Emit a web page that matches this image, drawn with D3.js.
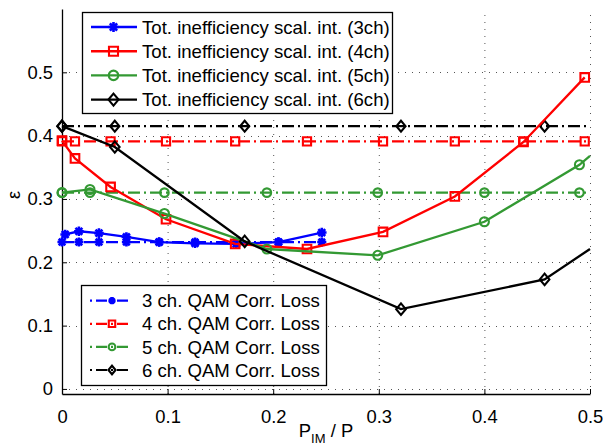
<!DOCTYPE html>
<html><head><meta charset="utf-8">
<script src="https://cdn.jsdelivr.net/npm/d3@7"></script>
<style>body{margin:0;background:#fff;} svg{display:block;font-family:"Liberation Sans",Arial,sans-serif;}</style>
</head><body>
<script>
// ---- data ----
const xTicks = [0, 0.1, 0.2, 0.3, 0.4, 0.5];
const yTicks = [0, 0.1, 0.2, 0.3, 0.4, 0.5];
const xTickLabels = ["0", "0.1", "0.2", "0.3", "0.4", "0.5"];
const yTickLabels = ["0", "0.1", "0.2", "0.3", "0.4", "0.5"];

const tot3X = [0.003, 0.016, 0.035, 0.061, 0.092, 0.126, 0.165, 0.205, 0.246];
const tot3Y = [0.244, 0.249, 0.246, 0.240, 0.232, 0.230, 0.229, 0.232, 0.247];
const tot4X = [0, 0.0123, 0.046, 0.0985, 0.164, 0.232, 0.304, 0.372, 0.437, 0.495];
const tot4Y = [0.392, 0.364, 0.319, 0.268, 0.229, 0.221, 0.248, 0.304, 0.390, 0.492];
const tot5X = [0, 0.0265, 0.097, 0.194, 0.299, 0.400, 0.490, 0.5];
const tot5Y = [0.310, 0.315, 0.277, 0.221, 0.211, 0.264, 0.354, 0.368];
const tot6X = [0, 0.05, 0.173, 0.321, 0.457, 0.5];
const tot6Y = [0.415, 0.382, 0.233, 0.126, 0.173, 0.221];
// number of leading points that carry a marker
const totMarked = [9, 10, 7, 5];

const corrLoss = [0.232, 0.391, 0.310, 0.415];
const corrMarkX = [
  [0, 0.016, 0.035, 0.061, 0.092, 0.126, 0.165, 0.205, 0.246],
  [0, 0.0123, 0.046, 0.0985, 0.164, 0.232, 0.304, 0.372, 0.437, 0.495],
  [0, 0.0265, 0.097, 0.194, 0.299, 0.400, 0.490],
  [0, 0.05, 0.173, 0.321, 0.457]
];
const corrSpan = [[0, 0.246], [0, 0.5], [0, 0.5], [0, 0.5]];

const totLabels = ["Tot. inefficiency scal. int. (3ch)", "Tot. inefficiency scal. int. (4ch)",
                   "Tot. inefficiency scal. int. (5ch)", "Tot. inefficiency scal. int. (6ch)"];
const corrLabels = ["3 ch. QAM Corr. Loss", "4 ch. QAM Corr. Loss", "5 ch. QAM Corr. Loss", "6 ch. QAM Corr. Loss"];
const colors = ["#0000ff", "#ff0000", "#339933", "#000000"];
const markerTypes = ["asterisk", "square", "circle", "diamond"];

// ---- layout ----
const W = 603, H = 446;
const L = 62, R = 590, T = 9, B = 394;
const x = d3.scaleLinear().domain([0, 0.5]).range([L, R]);
const y = d3.scaleLinear().domain([-0.008, 0.6]).range([B, T]);

const svg = d3.select("body").append("svg").attr("width", W).attr("height", H);

// grid
const grid = svg.append("g").attr("stroke", "#555").attr("stroke-width", 1).attr("stroke-dasharray", "1,6");
grid.selectAll(".gx").data(xTicks.filter(d => d > 0)).join("line")
  .attr("x1", d => x(d) + 0.5).attr("x2", d => x(d) + 0.5).attr("y1", B).attr("y2", T);
grid.selectAll(".gy").data(yTicks).join("line")
  .attr("y1", d => Math.round(y(d)) + 0.5).attr("y2", d => Math.round(y(d)) + 0.5).attr("x1", L).attr("x2", R);

// axes via d3 axis
const xAxis = d3.axisBottom(x).tickValues(xTicks).tickFormat((d, i) => xTickLabels[i]).tickSizeInner(-5).tickSizeOuter(0).tickPadding(16);
const yAxis = d3.axisLeft(y).tickValues(yTicks).tickFormat((d, i) => yTickLabels[i]).tickSizeInner(-5).tickSizeOuter(0).tickPadding(9);
const gx = svg.append("g").attr("transform", `translate(0,${B})`).call(xAxis);
const gy = svg.append("g").attr("transform", `translate(${L},0)`).call(yAxis);
[gx, gy].forEach(g => {
  g.select(".domain").attr("stroke", "#000").attr("stroke-width", 1.3);
  g.selectAll(".tick line").attr("stroke", "#000");
  g.selectAll(".tick text").attr("fill", "#000").attr("font-size", 18.4).attr("font-family", '"Liberation Sans", Arial, sans-serif');
});

function markerPath(type, s) {
  if (type === "asterisk") {
    const r = 4.8 * s, q = r * 0.72;
    return `M${-r},0L${r},0M0,${-r}L0,${r}M${-q},${-q}L${q},${q}M${-q},${q}L${q},${-q}`;
  }
  if (type === "square") { const h = 4.3 * s; return `M${-h},${-h}H${h}V${h}H${-h}Z`; }
  if (type === "circle") { const r = 4.5 * s; return `M${r},0A${r},${r} 0 1,1 ${-r},0A${r},${r} 0 1,1 ${r},0Z`; }
  const w = 4.8 * s, h = 5.7 * s;
  return `M0,${-h}L${w},0L0,${h}L${-w},0Z`;
}
function drawMarkers(g, pts, i, s) {
  g.selectAll(null).data(pts).join("path")
    .attr("transform", d => `translate(${d[0]},${d[1]})`)
    .attr("d", markerPath(markerTypes[i], s))
    .attr("fill", markerTypes[i] === "asterisk" ? colors[i] : "none")
    .attr("stroke", colors[i]).attr("stroke-width", markerTypes[i] === "asterisk" ? 2.6 : 2.1);
}

const totX = [tot3X, tot4X, tot5X, tot6X];
const totY = [tot3Y, tot4Y, tot5Y, tot6Y];
const line = d3.line().x(d => x(d[0])).y(d => y(d[1]));
const plot = svg.append("g");
const dashArr = "12,4,2,4";

// corr loss dash-dot lines
corrLoss.forEach((v, i) => {
  const g = plot.append("g");
  g.append("path").attr("d", line(corrSpan[i].map(xx => [xx, v])))
    .attr("fill", "none").attr("stroke", colors[i]).attr("stroke-width", 2.3).attr("stroke-dasharray", dashArr);
  drawMarkers(g, corrMarkX[i].map(xx => [x(xx), y(v)]), i, 0.95);
});
// total inefficiency solid lines
totX.forEach((xs, i) => {
  const g = plot.append("g");
  const pts = xs.map((xx, k) => [xx, totY[i][k]]);
  g.append("path").attr("d", line(pts)).attr("fill", "none").attr("stroke", colors[i]).attr("stroke-width", 2.3);
  drawMarkers(g, pts.slice(0, totMarked[i]).map(p => [x(p[0]), y(p[1])]), i, 1);
});

// legend 1
const lg1 = svg.append("g");
lg1.append("rect").attr("x", 82.5).attr("y", 12.5).attr("width", 310).attr("height", 101)
  .attr("fill", "#fff").attr("stroke", "#000").attr("stroke-width", 1.3);
totLabels.forEach((t, i) => {
  const yy = 27 + i * 24.2;
  lg1.append("line").attr("x1", 91).attr("x2", 137).attr("y1", yy).attr("y2", yy).attr("stroke", colors[i]).attr("stroke-width", 2.4);
  drawMarkers(lg1.append("g"), [[113.5, yy]], i, 1.05);
  lg1.append("text").attr("x", 142).attr("y", yy).attr("dy", "0.36em").attr("font-size", 18.6).text(t);
});

// legend 2
const lg2 = svg.append("g");
lg2.append("rect").attr("x", 81.5).attr("y", 285.5).attr("width", 245).attr("height", 100)
  .attr("fill", "#fff").attr("stroke", "#000").attr("stroke-width", 1.3);
corrLabels.forEach((t, i) => {
  const yy = 300.7 + i * 23.1;
  lg2.append("line").attr("x1", 90).attr("x2", 131).attr("y1", yy).attr("y2", yy).attr("stroke", colors[i]).attr("stroke-width", 2.2).attr("stroke-dasharray", "2,4,11,4");
  drawMarkers(lg2.append("g"), [[112, yy]], i, 0.75);
  lg2.append("text").attr("x", 142).attr("y", yy).attr("dy", "0.36em").attr("font-size", 18.6).text(t);
});

// axis labels
svg.append("text").attr("transform", `translate(20,195) rotate(-90)`).attr("text-anchor", "middle")
  .attr("font-size", 18).text("ε");
const xl = svg.append("text").attr("x", 326).attr("y", 437).attr("text-anchor", "middle").attr("font-size", 18.4);
xl.append("tspan").text("P");
xl.append("tspan").attr("font-size", 13).attr("dy", 6).text("IM");
xl.append("tspan").attr("dy", -6).text(" / P");
</script>
</body></html>
